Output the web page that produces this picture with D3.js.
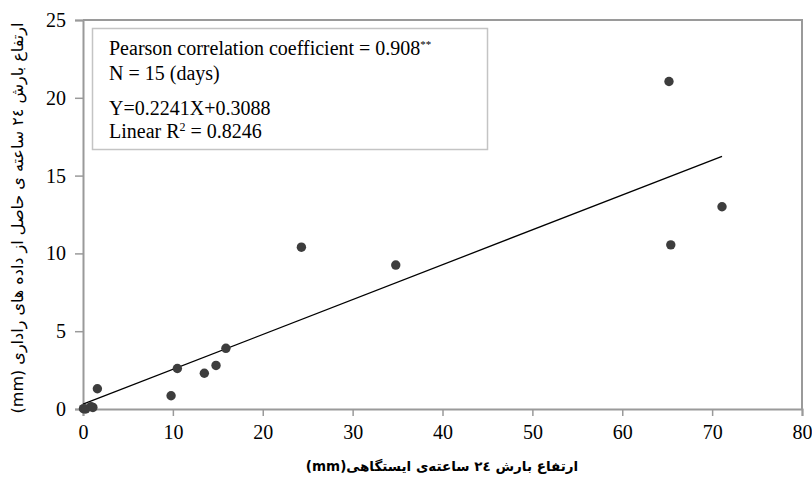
<!DOCTYPE html>
<html lang="en">
<head>
<meta charset="UTF-8">
<title>Rain gauge vs radar</title>
<script src="https://d3js.org/d3.v7.min.js"></script>
<style>
  body { margin: 0; background: #fff; }
  svg { display: block; }
</style>
</head>
<body>
<svg id="chart" width="812" height="477"></svg>
<script>
// station 24h rain (mm) vs radar 24h rain (mm), 15 days
var stationRain = [0.05, 0.3, 0.9, 1.1, 1.6, 9.8, 10.5, 13.5, 14.8, 15.9, 24.3, 34.8, 65.2, 65.4, 71.1];
var radarRain   = [0.02, 0.0, 0.15, 0.1, 1.3, 0.85, 2.6, 2.3, 2.8, 3.9, 10.4, 9.25, 21.05, 10.55, 13.0];

var xTicks = [0, 10, 20, 30, 40, 50, 60, 70, 80];
var yTicks = [0, 5, 10, 15, 20, 25];

var slope = 0.2241, intercept = 0.3088;
var fitRange = [0, 71.1];

var legendLines = ["Pearson correlation coefficient = 0.908", "N = 15 (days)", "Y=0.2241X+0.3088", "Linear R"];

var xTitle = "ارتفاع بارش ٢٤ ساعته‌ی ایستگاهی(mm)";
var yTitle = "ارتفاع بارش ٢٤ ساعته ی حاصل از داده های راداری (mm)";

var serif = "Liberation Serif, Times New Roman, serif";

var svg = d3.select("#chart");
var plotLeft = 83, plotRight = 802, plotTop = 20, plotBottom = 409;

var x = d3.scaleLinear().domain([0, 80]).range([plotLeft, plotRight]);
var y = d3.scaleLinear().domain([0, 25]).range([plotBottom, plotTop]);

var axisColor = "#9a9a9a";

// frame (top + right)
svg.append("path")
    .attr("d", "M" + plotLeft + "," + plotTop + "H" + plotRight + "V" + plotBottom)
    .attr("fill", "none")
    .attr("stroke", axisColor)
    .attr("stroke-width", 2);

// axes
var gx = svg.append("g").attr("transform", "translate(0," + plotBottom + ")")
    .call(d3.axisBottom(x).tickValues(xTicks).tickSize(7).tickPadding(9).tickFormat(d3.format("d")));
var gy = svg.append("g").attr("transform", "translate(" + plotLeft + ",0)")
    .call(d3.axisLeft(y).tickValues(yTicks).tickSize(8).tickPadding(10).tickFormat(d3.format("d")));

[gx, gy].forEach(function(g) {
    g.attr("font-family", null).attr("font-size", null);
    g.select(".domain").attr("stroke", axisColor).attr("stroke-width", 2);
    g.selectAll(".tick line").attr("stroke", axisColor).attr("stroke-width", 1.5);
    g.selectAll(".tick text")
        .attr("fill", "#000")
        .style("font-family", serif)
        .style("font-size", "20px");
});
gy.selectAll(".tick text").attr("x", -17);

// regression line
svg.append("line")
    .attr("x1", x(fitRange[0])).attr("y1", y(slope * fitRange[0] + intercept))
    .attr("x2", x(fitRange[1])).attr("y2", y(slope * fitRange[1] + intercept))
    .attr("stroke", "#000")
    .attr("stroke-width", 1.3);

// points
svg.append("g").selectAll("circle")
    .data(stationRain.map(function(d, i) { return [d, radarRain[i]]; }))
    .join("circle")
    .attr("cx", function(d) { return x(d[0]); })
    .attr("cy", function(d) { return y(d[1]); })
    .attr("r", 4.7)
    .attr("fill", "#3d3d3d");

// legend box
var legend = svg.append("g").style("font-family", serif).style("font-size", "20px");
legend.append("rect")
    .attr("x", 92.5).attr("y", 28.5)
    .attr("width", 395).attr("height", 121)
    .attr("fill", "#fff")
    .attr("stroke", "#c4c4c4")
    .attr("stroke-width", 1.5);

var baselines = [55, 80, 115, 138];
var t0 = legend.append("text").attr("x", 109).attr("y", baselines[0]).text(legendLines[0]);
t0.append("tspan").attr("dy", -7).style("font-size", "11px").text("**");
legend.append("text").attr("x", 109).attr("y", baselines[1]).text(legendLines[1]);
legend.append("text").attr("x", 109).attr("y", baselines[2]).text(legendLines[2]);
var t3 = legend.append("text").attr("x", 109).attr("y", baselines[3]).text(legendLines[3]);
t3.append("tspan").attr("dy", -7).style("font-size", "12px").text("2");
t3.append("tspan").attr("dy", 7).text(" = 0.8246");

// axis titles
svg.append("text")
    .attr("x", 442).attr("y", 471)
    .attr("text-anchor", "middle")
    .attr("direction", "rtl")
    .style("font-family", "DejaVu Sans, sans-serif")
    .style("font-size", "13.5px")
    .style("font-weight", "bold")
    .text(xTitle);

svg.append("text")
    .attr("transform", "translate(23,218) rotate(-90)")
    .attr("text-anchor", "middle")
    .attr("direction", "rtl")
    .style("font-family", "DejaVu Sans, sans-serif")
    .style("font-size", "16px")
    .text(yTitle);
</script>
</body>
</html>
